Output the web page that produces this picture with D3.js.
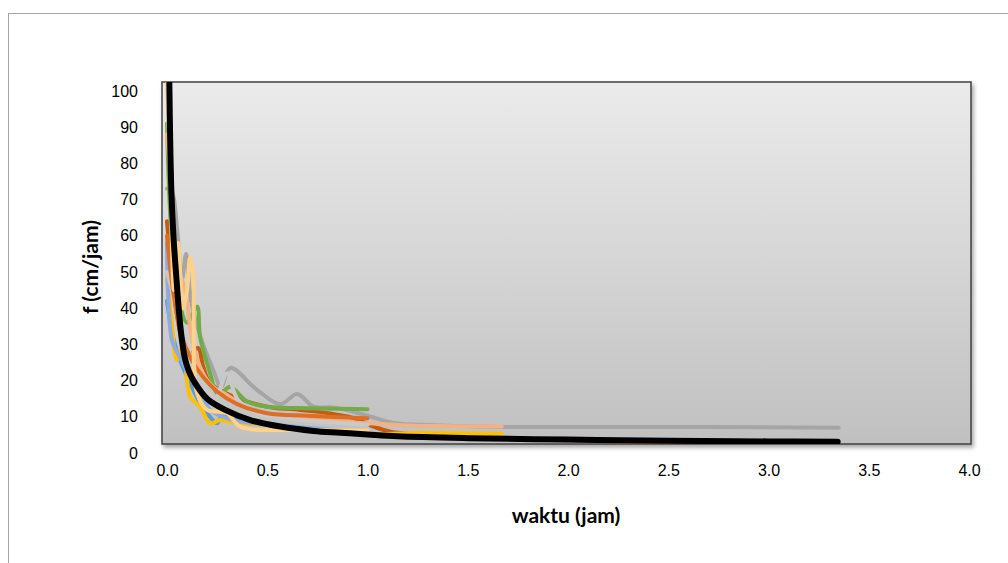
<!DOCTYPE html>
<html>
<head>
  <script src="https://d3js.org/d3.v7.min.js"></script>
  <style>
    body { margin: 0; background: #fff; font-family: Lato, "Open Sans", sans-serif; }
    .tick text { font-size: 16px; fill: #000; }
    .axis-label { font-size: 21px; font-weight: bold; text-anchor: middle; }
  </style>
</head>
<body>
  <div id="chart"></div>
  <script>
    // tick labels
    const xTicks = [0, 0.5, 1, 1.5, 2, 2.5, 3, 3.5, 4];
    const yTicks = [0, 10, 20, 30, 40, 50, 60, 70, 80, 90, 100];

    // measured series (t = waktu in jam, f = cm/jam)
    const tBlue = [0, 0.03, 0.065, 0.115, 0.165, 0.2, 0.25, 0.27, 0.33, 0.5, 0.8, 1.2, 1.67];
    const fBlue = [42, 32, 25.7, 19.3, 13.8, 11, 8.2, 10, 9.6, 8, 6, 4.8, 4];
    const tOrange = [0, 0.02, 0.05, 0.08, 0.11, 0.155, 0.18, 0.215, 0.33, 0.5, 0.665, 0.915, 1.03, 1.115, 1.5, 2.0, 2.67, 3.35];
    const fOrange = [64, 52, 38, 30, 27, 29, 24, 19.3, 15.6, 12.8, 11.9, 9.9, 7.3, 5.9, 4.3, 3.5, 2.8, 2.4];
    const tGray = [0, 0.025, 0.05, 0.075, 0.095, 0.12, 0.17, 0.23, 0.27, 0.315, 0.45, 0.565, 0.65, 0.73, 0.83, 1.0, 1.13, 1.33, 1.67, 2.0, 2.67, 3.35];
    const fGray = [73, 72, 62, 48, 55, 42, 31.7, 23, 18.3, 23.5, 17.4, 13.5, 16.3, 12.8, 12.6, 10.3, 8.3, 7.7, 7.2, 7.2, 7.2, 7.0];
    const tGold = [0, 0.02, 0.05, 0.08, 0.115, 0.165, 0.215, 0.265, 0.33, 0.5, 0.8, 1.0, 1.25, 1.67];
    const fGold = [48, 38, 25.7, 29.4, 15.6, 12.8, 8.2, 9.1, 8.5, 7.8, 6, 5.2, 5.5, 5.3];
    const tLightBlue = [0, 0.025, 0.06, 0.115, 0.165, 0.215, 0.33, 0.5, 0.8, 1.0];
    const fLightBlue = [58, 31, 27, 21, 17.4, 11.9, 9.1, 8, 6.5, 5.8];
    const tGreen = [0, 0.02, 0.05, 0.1, 0.15, 0.165, 0.215, 0.25, 0.28, 0.315, 0.4, 0.5, 0.665, 1.0];
    const fGreen = [91, 62, 45, 36, 40.4, 32, 22, 16.5, 17, 18.3, 14.2, 12.8, 12.4, 12.1];
    const tSalmon = [0, 0.02, 0.05, 0.09, 0.13, 0.18, 0.23, 0.3, 0.415, 0.665, 1.0, 1.17, 1.67];
    const fSalmon = [88, 75, 52, 45, 30, 22, 18.3, 16, 11.9, 9.7, 8.2, 7.7, 7.3];
    const tLightGray = [0, 0.05, 0.1, 0.15, 0.2, 0.24, 0.3, 0.35, 0.45, 0.6, 0.8, 1.0];
    const fLightGray = [50, 40, 30, 22, 17, 15, 22, 15, 11, 9.5, 8.5, 7.8];
    const tOrange2 = [0, 0.03, 0.07, 0.12, 0.18, 0.25, 0.35, 0.5, 0.7, 1.0];
    const fOrange2 = [60, 45, 33, 26, 21, 17, 13.5, 11, 10.3, 9.6];
    const tYellow = [0, 0.015, 0.035, 0.055, 0.08, 0.1, 0.115, 0.13, 0.15, 0.2, 0.3, 0.365, 0.665, 1.0];
    const fYellow = [102, 80, 45, 58, 40, 45, 54, 50, 16.5, 11.9, 11, 7.3, 6.4, 6.2];

    // fitted curve
    const tFit = [0.011, 0.016, 0.022, 0.032, 0.046, 0.063, 0.075, 0.09, 0.11, 0.14, 0.2, 0.29, 0.415, 0.565, 0.73, 0.865, 1.0, 1.15, 1.5, 2.0, 2.5, 3.0, 3.345];
    const fFit = [105, 86, 72, 60, 49, 37, 31, 26, 22.5, 19.3, 15, 11.9, 9.1, 7.3, 6.1, 5.6, 5.1, 4.6, 4.1, 3.7, 3.4, 3.2, 3.1];

    const series = [
      { t: tBlue, f: fBlue, color: "#5B9BD5" },
      { t: tOrange, f: fOrange, color: "#C55A11" },
      { t: tGray, f: fGray, color: "#A5A5A5" },
      { t: tGold, f: fGold, color: "#FFC000" },
      { t: tLightBlue, f: fLightBlue, color: "#8FAADC" },
      { t: tGreen, f: fGreen, color: "#70AD47" },
      { t: tSalmon, f: fSalmon, color: "#F4B183" },
      { t: tLightGray, f: fLightGray, color: "#C9C9C9" },
      { t: tOrange2, f: fOrange2, color: "#DD6E26" },
      { t: tYellow, f: fYellow, color: "#FFD28C" }
    ];

    const W = 1008, H = 563;
    const plot = { left: 162, top: 82, right: 971, bottom: 444 };

    const svg = d3.select("#chart").append("svg")
      .attr("width", W)
      .attr("height", H);

    const defs = svg.append("defs");
    const grad = defs.append("linearGradient")
      .attr("id", "bg").attr("x1", 0).attr("y1", 0).attr("x2", 0).attr("y2", 1);
    grad.append("stop").attr("offset", "0%").attr("stop-color", "#EBEBEB");
    grad.append("stop").attr("offset", "100%").attr("stop-color", "#C0C0C0");

    const shadow = defs.append("filter").attr("id", "shadow")
      .attr("x", "-5%").attr("y", "-5%").attr("width", "110%").attr("height", "115%");
    shadow.append("feDropShadow")
      .attr("dx", 2).attr("dy", 3).attr("stdDeviation", 2)
      .attr("flood-color", "#000").attr("flood-opacity", 0.35);

    defs.append("clipPath").attr("id", "clip")
      .append("rect")
        .attr("x", plot.left).attr("y", plot.top)
        .attr("width", plot.right - plot.left)
        .attr("height", plot.bottom - plot.top);

    // outer chart frame
    svg.append("rect")
      .attr("x", 8.5).attr("y", 13.5)
      .attr("width", W + 20).attr("height", H + 20)
      .attr("fill", "#fff")
      .attr("stroke", "#A6A6A6")
      .attr("stroke-width", 1);

    // plot area
    svg.append("rect")
      .attr("x", plot.left).attr("y", plot.top)
      .attr("width", plot.right - plot.left)
      .attr("height", plot.bottom - plot.top)
      .attr("fill", "url(#bg)")
      .attr("stroke", "#404040")
      .attr("stroke-width", 1.5)
      .attr("filter", "url(#shadow)");

    const x = d3.scaleLinear().domain([0, 4]).range([167, 969]);
    const y = d3.scaleLinear().domain([0, 100]).range([453, 91]);

    svg.append("g")
      .attr("transform", "translate(0,470)")
      .call(d3.axisBottom(x).tickValues(xTicks).tickSize(0).tickPadding(0).tickFormat(d3.format(".1f")))
      .call(g => g.select(".domain").remove())
      .call(g => g.selectAll("text").attr("dy", "0.35em"));

    svg.append("g")
      .attr("transform", "translate(138,0)")
      .call(d3.axisLeft(y).tickValues(yTicks).tickSize(0).tickPadding(0))
      .call(g => g.select(".domain").remove());

    const line = d3.line()
      .x(d => x(d[0]))
      .y(d => y(d[1]))
      .curve(d3.curveCatmullRom.alpha(0.5));

    const lines = svg.append("g").attr("clip-path", "url(#clip)");

    lines.selectAll(".series")
      .data(series)
      .enter()
      .append("path")
        .attr("class", "series")
        .attr("d", s => line(d3.zip(s.t, s.f)))
        .attr("fill", "none")
        .attr("stroke", s => s.color)
        .attr("stroke-width", 4)
        .attr("stroke-linecap", "round")
        .attr("stroke-linejoin", "round");

    lines.append("path")
      .attr("d", line(d3.zip(tFit, fFit)))
      .attr("fill", "none")
      .attr("stroke", "#000")
      .attr("stroke-width", 6)
      .attr("stroke-linecap", "round");

    // axis titles
    svg.append("text")
      .attr("class", "axis-label")
      .attr("x", 566)
      .attr("y", 523)
      .text("waktu (jam)");

    svg.append("text")
      .attr("class", "axis-label")
      .attr("transform", "translate(98,267) rotate(-90)")
      .text("f (cm/jam)");
  </script>
</body>
</html>
